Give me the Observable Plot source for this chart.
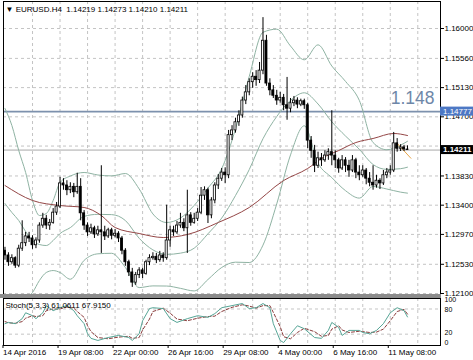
<!DOCTYPE html>
<html><head><meta charset="utf-8">
<script src="https://cdn.jsdelivr.net/npm/d3@7"></script>
<script src="https://cdn.jsdelivr.net/npm/@observablehq/plot@0.6"></script>
<style>
html,body{margin:0;padding:0;background:#fff;}
#chart{position:relative;width:473px;height:360px;overflow:hidden;font-family:"Liberation Sans",Arial,sans-serif;}
#chart svg{position:absolute;left:0;overflow:visible;}
#sep{position:absolute;left:0;top:294px;width:441px;height:4px;background:#8c8c8c;}
</style></head><body><div id="chart"></div>
<script>
// ---- OHLC, EURUSD H4 (bar index 0 = 14 Apr 2016 16:00)
const open = [1.1273,1.1266,1.1256,1.1262,1.1251,1.1276,1.1284,1.1294,1.1291,1.1281,
1.1288,1.1310,1.1320,1.1310,1.1314,1.1329,1.1338,1.1372,1.1369,1.1362,
1.1367,1.1359,1.1367,1.1328,1.1310,1.1300,1.1306,1.1297,1.1303,1.1300,
1.1294,1.1303,1.1295,1.1298,1.1291,1.1273,1.1256,1.1241,1.1226,1.1237,
1.1244,1.1239,1.1256,1.1262,1.1264,1.1259,1.1266,1.1262,1.1288,1.1303,
1.1300,1.1310,1.1314,1.1306,1.1325,1.1314,1.1320,1.1329,1.1354,1.1362,
1.1325,1.1347,1.1369,1.1379,1.1388,1.1384,1.1443,1.1450,1.1462,1.1472,
1.1494,1.1506,1.1521,1.1529,1.1524,1.1538,1.1582,1.1519,1.1509,1.1501,
1.1494,1.1498,1.1487,1.1482,1.1490,1.1494,1.1488,1.1493,1.1487,1.1435,
1.1420,1.1398,1.1409,1.1406,1.1413,1.1418,1.1413,1.1406,1.1394,1.1406,
1.1398,1.1391,1.1406,1.1388,1.1384,1.1391,1.1379,1.1373,1.1369,1.1376,
1.1372,1.1384,1.1388,1.1391,1.1431,1.1423,1.1425,1.14219];
const high = [1.1278,1.1270,1.1267,1.1264,1.1281,1.1317,1.1300,1.1300,1.1295,1.1292,
1.1314,1.1328,1.1325,1.1319,1.1335,1.1344,1.1381,1.1379,1.1376,1.1373,
1.1372,1.1387,1.1379,1.1332,1.1314,1.1312,1.1309,1.1309,1.1398,1.1309,
1.1306,1.1306,1.1304,1.1301,1.1294,1.1276,1.1259,1.1247,1.1241,1.1248,
1.1247,1.1259,1.1267,1.1270,1.1269,1.1272,1.1270,1.1340,1.1309,1.1309,
1.1316,1.1328,1.1320,1.1362,1.1329,1.1328,1.1335,1.1366,1.1367,1.1365,
1.1351,1.1373,1.1385,1.1394,1.1395,1.1450,1.1457,1.1468,1.1479,1.1499,
1.1516,1.1526,1.1535,1.1538,1.1550,1.1616,1.1590,1.1526,1.1516,1.1509,
1.1506,1.1503,1.1528,1.1497,1.1500,1.1498,1.1496,1.1496,1.1490,1.1441,
1.1428,1.1418,1.1416,1.1420,1.1423,1.1479,1.1420,1.1409,1.1413,1.1410,
1.1406,1.1413,1.1409,1.1398,1.1398,1.1394,1.1388,1.1398,1.1384,1.1379,
1.1391,1.1394,1.1398,1.1447,1.1438,1.1429,1.1428,1.14273];
const low = [1.1259,1.1250,1.1253,1.1247,1.1248,1.1272,1.1279,1.1285,1.1275,1.1276,
1.1284,1.1306,1.1304,1.1303,1.1312,1.1325,1.1335,1.1362,1.1354,1.1357,
1.1351,1.1356,1.1317,1.1303,1.1294,1.1297,1.1291,1.1294,1.1269,1.1288,
1.1291,1.1289,1.1292,1.1285,1.1267,1.1250,1.1235,1.1219,1.1222,1.1232,
1.1232,1.1237,1.1251,1.1259,1.1254,1.1256,1.1256,1.1259,1.1278,1.1294,
1.1297,1.1306,1.1301,1.1269,1.1309,1.1312,1.1316,1.1326,1.1347,1.1313,
1.1320,1.1342,1.1363,1.1375,1.1372,1.1379,1.1435,1.1446,1.1456,1.1468,
1.1488,1.1501,1.1512,1.1515,1.1519,1.1532,1.1515,1.1501,1.1497,1.1487,
1.1490,1.1479,1.1465,1.1476,1.1485,1.1482,1.1485,1.1481,1.1423,1.1409,
1.1388,1.1394,1.1397,1.1403,1.1406,1.1398,1.1394,1.1387,1.1391,1.1388,
1.1381,1.1388,1.1379,1.1376,1.1381,1.1370,1.1367,1.1362,1.1365,1.1363,
1.1369,1.1379,1.1384,1.1388,1.1418,1.1419,1.1419,1.14210];
const close = [1.1266,1.1256,1.1262,1.1251,1.1276,1.1284,1.1294,1.1291,1.1281,1.1288,
1.1310,1.1320,1.1310,1.1314,1.1329,1.1338,1.1372,1.1369,1.1362,1.1367,
1.1359,1.1367,1.1328,1.1310,1.1300,1.1306,1.1297,1.1303,1.1300,1.1294,
1.1303,1.1295,1.1298,1.1291,1.1273,1.1256,1.1241,1.1226,1.1237,1.1244,
1.1239,1.1256,1.1262,1.1264,1.1259,1.1266,1.1262,1.1288,1.1303,1.1300,
1.1310,1.1314,1.1306,1.1325,1.1314,1.1320,1.1329,1.1354,1.1362,1.1325,
1.1347,1.1369,1.1379,1.1388,1.1384,1.1443,1.1450,1.1462,1.1472,1.1494,
1.1506,1.1521,1.1529,1.1524,1.1538,1.1582,1.1519,1.1509,1.1501,1.1494,
1.1498,1.1487,1.1482,1.1490,1.1494,1.1488,1.1493,1.1487,1.1435,1.1420,
1.1398,1.1409,1.1406,1.1413,1.1418,1.1413,1.1406,1.1394,1.1406,1.1398,
1.1391,1.1406,1.1388,1.1384,1.1391,1.1379,1.1373,1.1369,1.1376,1.1372,
1.1384,1.1388,1.1391,1.1431,1.1423,1.1425,1.1422,1.14211];

// ---- Bollinger bands (20,2) read at sample bars
const bandBars = [0,2,4,6,8,10,12,14,16,19,23,27,31,35,39,43,47,51,55,59,63,67,71,75,79,83,87,91,95,99,103,107,111,115,117];
const upperBand = [1.14823,1.14572,1.14204,1.13881,1.13469,1.13248,1.13277,1.13469,1.13734,1.13829,1.13881,1.13844,1.13831,1.13866,1.13639,1.13271,1.13145,1.13211,1.13397,1.13651,1.13937,1.14522,1.15294,1.15944,1.15990,1.15742,1.15539,1.15760,1.15448,1.15221,1.14942,1.14322,1.14216,1.14284,1.14340];
const middleBand = [1.13424,1.13292,1.13174,1.13012,1.12880,1.12821,1.12806,1.12880,1.12983,1.13070,1.13235,1.13265,1.13261,1.13174,1.12913,1.12742,1.12676,1.12694,1.12767,1.12979,1.13210,1.13541,1.13924,1.14378,1.14705,1.14942,1.15054,1.14889,1.14627,1.14417,1.14223,1.13998,1.13927,1.13937,1.13959];
const lowerBand = [1.11997,1.11997,1.11997,1.12026,1.12115,1.12291,1.12409,1.12438,1.12409,1.12310,1.12588,1.12684,1.12692,1.12483,1.12187,1.12212,1.12210,1.12176,1.12138,1.12306,1.12483,1.12561,1.12556,1.12812,1.13420,1.14140,1.14568,1.14018,1.13806,1.13613,1.13504,1.13675,1.13638,1.13592,1.13577];

// ---- moving average
const maBars = [0,8,16,23,28,32,39,46,53,62,71,81,88,92,97,102,107,113,117];
const maValues = [1.13689,1.13469,1.13395,1.13366,1.13248,1.13071,1.12983,1.12924,1.12968,1.13145,1.13366,1.13763,1.13940,1.14087,1.14204,1.14322,1.14381,1.14455,1.14425];

// ---- small orange segment near the last bars
const fanBars = [114,118];
const fanValues = [1.1431,1.1409];

// ---- Stochastic (5,3,3)
const stochBars = [0,1,3,5,6,8,9,11,12,14,16,18,20,21,23,24,25,27,30,33,36,37,39,40,42,43,46,48,50,53,56,59,61,63,66,69,71,73,75,77,78,80,81,83,85,87,90,92,94,95,97,98,100,103,104,106,108,110,112,114,116,117];
const kValues = [45,48,45,57,71,64,57,71,88,76,83,88,76,64,45,21,10,5,12,17,12,5,21,52,81,83,81,57,48,57,64,60,69,83,88,93,81,83,93,83,45,5,0,21,40,33,12,10,29,48,36,17,29,29,24,21,29,45,71,83,76,61.06];
const dValues = [50,47,46,50,58,64,62,64,76,80,80,85,82,74,60,40,26,12,9,13,15,10,12,30,56,74,82,70,56,52,58,62,63,74,84,90,87,82,88,88,72,38,14,9,24,34,26,15,17,32,40,30,24,27,26,24,25,32,52,74,79,67.92];
const stochLevels = [80,20];

// ---- axes
const priceTicks = [1.16000,1.15560,1.15130,1.14700,1.14270,1.13830,1.13400,1.12970,1.12530,1.12100];
const priceLabelTicks = [1.16000,1.15560,1.15130,1.14700,1.13830,1.13400,1.12970,1.12530,1.12100];
const gridBars = [8,16,24,32,40,48,56,64,72,80,88,96,104,112,120];
const timeTickBars = [0,16,32,48,64,80,96,112];
const timeTickLabels = ["14 Apr 2016","19 Apr 08:00","22 Apr 00:00","26 Apr 16:00","29 Apr 08:00","4 May 00:00","6 May 16:00","11 May 08:00"];
const levelLine = 1.14777, bidPrice = 1.14211;
const headerText = "\u25BC EURUSD.H4  1.14219 1.14273 1.14210 1.14211";
const stochText = "Stoch(5,3,3) 61.0611 67.9150";

const candles = open.map((o,i)=>({i, open:o, high:high[i], low:low[i], close:close[i]}));
const bands = bandBars.map((b,i)=>({b, up:upperBand[i], mid:middleBand[i], lo:lowerBand[i]}));
const ma = maBars.map((b,i)=>({b, v:maValues[i]}));
const fan = fanBars.map((b,i)=>({b, v:fanValues[i]}));
const stoch = stochBars.map((b,i)=>({b, k:kValues[i], d:dValues[i]}));
const labelMap = new Map(timeTickBars.map((b,i)=>[b,timeTickLabels[i]]));

const xDomain = [-0.436, 126.6];
const font = "Liberation Sans, Arial, sans-serif";
const grid = {stroke:"#c4c4c4", strokeDasharray:"3,3", strokeWidth:1};
const fmt5 = d3.format(".5f");

function priceBox(value, bg, fg, bold) {
  return (index, scales, values, dim) => {
    const y = scales.y(value);
    const x0 = dim.width - dim.marginRight;
    const g = d3.create("svg:g");
    g.append("rect").attr("x", x0).attr("y", y - 4.5).attr("width", dim.marginRight).attr("height", 9).attr("fill", bg);
    g.append("text").attr("x", x0 + 3).attr("y", y).attr("dy", "0.35em")
      .attr("text-anchor", "start")
      .attr("fill", fg).attr("font-size", 8).attr("font-family", font)
      .attr("font-weight", bold ? "bold" : "normal").text(fmt5(value));
    return g.node();
  };
}

const main = Plot.plot({
  width:473, height:297, marginLeft:3, marginRight:33, marginTop:1, marginBottom:3,
  x:{domain:xDomain, axis:null, label:null},
  y:{domain:[1.120854,1.163974], axis:null, label:null},
  style:{fontFamily:font, fontSize:"8px", color:"black", background:"transparent", overflow:"visible"},
  marks:[
    Plot.ruleY(priceTicks, grid),
    Plot.ruleX(gridBars, grid),
    Plot.ruleY([bidPrice], {stroke:"#a8a8a8", strokeWidth:1}),
    Plot.ruleY([levelLine], {stroke:"#7d91ad", strokeWidth:1.6}),
    Plot.text([levelLine], {y:d=>d, text:()=>"1.148", frameAnchor:"right", textAnchor:"end", dx:-6, dy:-13, fontSize:17.5, fill:"#6e87a8"}),
    Plot.line(bands, {x:"b", y:"up", stroke:"#8fb3a3", strokeWidth:1, curve:"monotone-x", clip:true}),
    Plot.line(bands, {x:"b", y:"mid", stroke:"#8fb3a3", strokeWidth:1, curve:"monotone-x", clip:true}),
    Plot.line(bands, {x:"b", y:"lo", stroke:"#8fb3a3", strokeWidth:1, curve:"monotone-x", clip:true}),
    Plot.line(ma, {x:"b", y:"v", stroke:"#944646", strokeWidth:1, curve:"monotone-x", clip:true}),
    Plot.line(fan, {x:"b", y:"v", stroke:"#e8a64a", strokeWidth:1}),
    Plot.ruleX(candles, {x:"i", y1:"low", y2:"high", stroke:"black", strokeWidth:1}),
    Plot.rect(candles, {x1:d=>d.i-0.3, x2:d=>d.i+0.3, y1:"open", y2:"close",
      fill:d=>d.close>=d.open ? "white" : "black", stroke:"black", strokeWidth:0.8}),
    Plot.frame({stroke:"black"}),
    Plot.axisY(priceLabelTicks, {anchor:"right", label:null, tickFormat:fmt5, tickSize:3, tickPadding:1, fontSize:8}),
    priceBox(levelLine, "#4d78c4", "white", false),
    priceBox(bidPrice, "black", "white", true),
    Plot.text([headerText], {frameAnchor:"top-left", dx:2, dy:5, textAnchor:"start", lineAnchor:"top", fontSize:8, fill:"black"})
  ]
});
main.style.top = "0px";

const st = Plot.plot({
  width:473, height:63, marginLeft:3, marginRight:33, marginTop:1, marginBottom:15,
  x:{domain:xDomain, axis:null, label:null},
  y:{domain:[-7,105], axis:null, label:null},
  style:{fontFamily:font, fontSize:"8px", color:"black", background:"transparent", overflow:"visible"},
  marks:[
    Plot.ruleX(gridBars, grid),
    Plot.ruleY(stochLevels, grid),
    Plot.line(stoch, {x:"b", y:"d", stroke:"#8a3c3c", strokeWidth:1, strokeDasharray:"3,2"}),
    Plot.line(stoch, {x:"b", y:"k", stroke:"#56a596", strokeWidth:1}),
    Plot.frame({stroke:"black"}),
    Plot.axisX(timeTickBars, {anchor:"bottom", label:null, tickSize:3, tickPadding:1, tickFormat:d=>labelMap.get(d), textAnchor:"start", dx:-2, fontSize:8}),
    Plot.text([100], {y:d=>d, text:d=>String(d), frameAnchor:"right", dx:4, dy:-1, textAnchor:"start", fontSize:7}),
    Plot.text([80], {y:d=>d, text:d=>String(d), frameAnchor:"right", dx:4, dy:1, textAnchor:"start", fontSize:7}),
    Plot.text([20], {y:d=>d, text:d=>String(d), frameAnchor:"right", dx:4, dy:-1, textAnchor:"start", fontSize:7}),
    Plot.text([0], {y:d=>d, text:d=>String(d), frameAnchor:"right", dx:4, dy:0, textAnchor:"start", fontSize:7}),
    Plot.text([stochText], {frameAnchor:"top-left", dx:2, dy:4, textAnchor:"start", lineAnchor:"top", fontSize:8, fill:"black"})
  ]
});
st.style.top = "297px";

const chart = document.getElementById("chart");
chart.appendChild(main);
const sep = document.createElement("div"); sep.id = "sep";
chart.appendChild(sep);
chart.appendChild(st);
</script></body></html>
